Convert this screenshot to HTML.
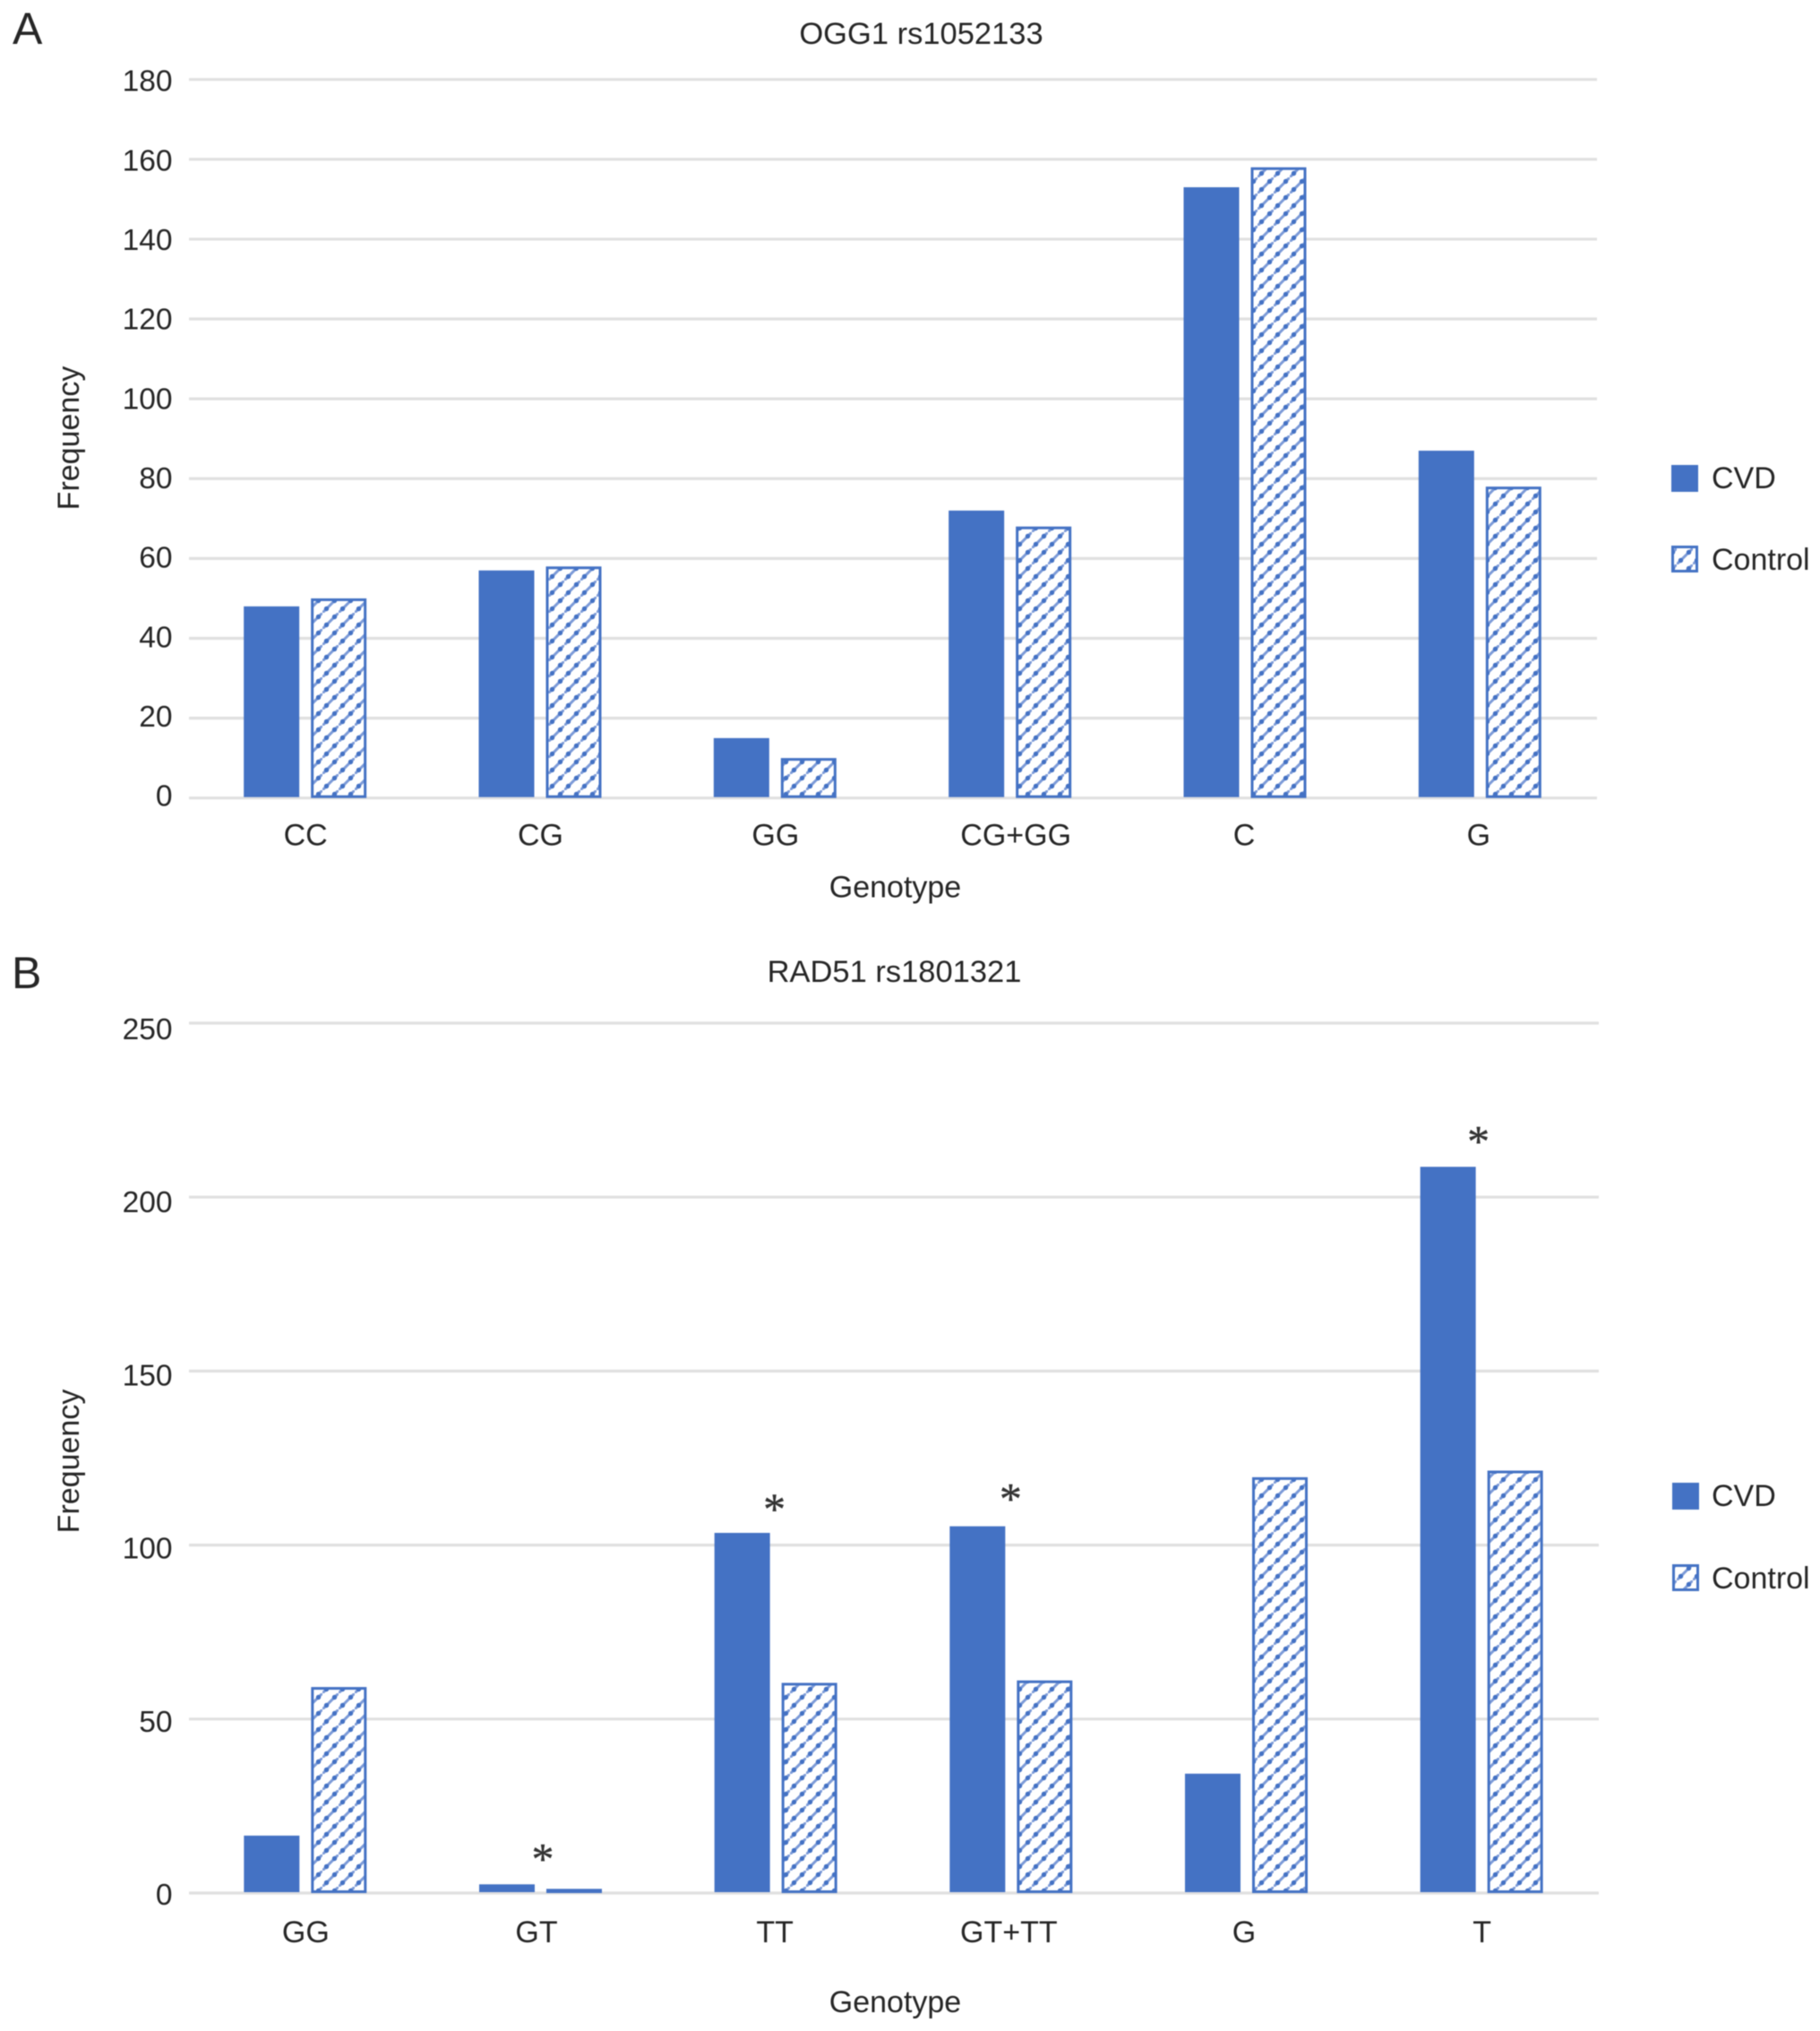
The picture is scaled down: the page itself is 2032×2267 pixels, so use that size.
<!DOCTYPE html>
<html lang="en">
<head>
<meta charset="utf-8">
<title>OGG1 rs1052133 and RAD51 rs1801321 genotype frequency</title>
<style>
html,body{margin:0;padding:0;background:#fff;}
svg{display:block;filter:blur(0.6px);}
text{font-family:"Liberation Sans",sans-serif;fill:#262626;}
</style>
</head>
<body>
<svg id="figure" xmlns="http://www.w3.org/2000/svg" width="2032" height="2267" viewBox="0 0 2032 2267">
  <defs>
    <pattern id="hatch" patternUnits="userSpaceOnUse" width="18" height="18">
      <rect width="18" height="18" fill="#ffffff"/>
      <path d="M-2,20 L20,-2" stroke="#7d9bd8" stroke-width="3" fill="none"/>
      <circle cx="4.5" cy="13.5" r="2.7" fill="#4472c4"/>
      <circle cx="13.5" cy="4.5" r="2.7" fill="#4472c4"/>
    </pattern>
  </defs>
  <rect width="2032" height="2267" fill="#ffffff"/>
  <g id="panelA"></g>
  <g id="panelB"></g>
</svg>
<script>
// Panel A: OGG1 rs1052133
const categoriesA = ['CC', 'CG', 'GG', 'CG+GG', 'C', 'G'];
const cvdA = [48, 57, 15, 72, 153, 87];
const controlA = [50, 58, 10, 68, 158, 78];
const ticksA = [0, 20, 40, 60, 80, 100, 120, 140, 160, 180];
const significantA = [0, 0, 0, 0, 0, 0];

// Panel B: RAD51 rs1801321
const categoriesB = ['GG', 'GT', 'TT', 'GT+TT', 'G', 'T'];
const cvdB = [16.5, 2.5, 103.5, 105.4, 34.3, 208.7];
const controlB = [59.2, 1.2, 60.4, 61.1, 119.5, 121.4];
const ticksB = [0, 50, 100, 150, 200, 250];
const significantB = [0, 1, 1, 1, 0, 1];

const SVG_NS = 'http://www.w3.org/2000/svg';
const BLUE = '#4472c4';

function make(parent, tag, attrs, content) {
  const el = document.createElementNS(SVG_NS, tag);
  for (const key in attrs) el.setAttribute(key, attrs[key]);
  if (content !== undefined) el.textContent = content;
  parent.appendChild(el);
  return el;
}

function drawChart(root, cfg) {
  const maxTick = cfg.ticks[cfg.ticks.length - 1];
  const yScale = v => cfg.y0 - (v / maxTick) * (cfg.y0 - cfg.yTop);
  const band = (cfg.xRight - cfg.xLeft) / cfg.categories.length;
  const xCenter = i => cfg.xLeft + band * (i + 0.5);
  const barW = 62;
  const barGap = 13;

  const letter = make(root, 'text', {x: cfg.letterX, y: cfg.letterY, 'font-size': 50, fill: '#111'}, cfg.letter);
  
  

  const title = make(root, 'text', {x: cfg.titleX, y: cfg.titleY, 'font-size': 34.5, 'text-anchor': 'middle'}, cfg.title);
  
  

  cfg.ticks.forEach(t => {
    const grid = make(root, 'line', {x1: cfg.gridLeft, x2: cfg.gridRight, y1: yScale(t), y2: yScale(t), stroke: '#e0e0e0', 'stroke-width': 3.2});
    
    

    const drift = cfg.labelDrop0 + (cfg.labelDropTop - cfg.labelDrop0) * t / maxTick;
    const label = make(root, 'text', {x: 192.5, y: yScale(t) + drift, 'font-size': 33.5, 'text-anchor': 'end'}, String(t));
    
    
  });

  cfg.categories.forEach((cat, i) => {
    const cx = xCenter(i);
    const groupLeft = cx - (2 * barW + barGap) / 2;
    const cvdTop = yScale(cfg.cvd[i]);
    const ctlTop = yScale(cfg.control[i]);

    const cvdBar = make(root, 'rect', {x: groupLeft - 0.5, y: cvdTop, width: barW, height: cfg.y0 - cvdTop - 1, fill: BLUE});
    
    

    const ctlBar = make(root, 'rect', {x: groupLeft + barW + barGap + 1, y: ctlTop + 1.5, width: barW - 3, height: Math.max(cfg.y0 - ctlTop - 3, 0.5), fill: 'url(#hatch)', stroke: BLUE, 'stroke-width': 3});
    
    

    const tick = make(root, 'text', {x: cx + cfg.labelNudge[i], y: cfg.catY, 'font-size': 34, 'text-anchor': 'middle'}, cat);
    
    

    if (cfg.significant[i]) {
      const top = Math.min(cvdTop, ctlTop);
      const star = make(root, 'text', {x: cx - 1 + cfg.starNudgeX[i], y: top - 33 + 21 + cfg.starNudgeY[i], 'font-size': 50, 'text-anchor': 'middle', stroke: '#333', 'stroke-width': 0.4, style: 'font-family:"Liberation Serif",serif;fill:#333'}, '*');
      
      
    }
  });

  const xTitle = make(root, 'text', {x: 999.5, y: cfg.xTitleY, 'font-size': 34, 'text-anchor': 'middle'}, 'Genotype');
  
  

  const yTitle = make(root, 'text', {x: 0, y: 0, 'font-size': 34, 'text-anchor': 'middle', transform: 'translate(88 ' + cfg.yTitleCenter + ') rotate(-90)'}, 'Frequency');
  
  

  const legendCvd = make(root, 'rect', {x: cfg.legendX, y: cfg.legendCvdY, width: 30, height: 30, fill: BLUE});
  
  

  const legendCvdText = make(root, 'text', {x: 1911, y: cfg.legendCvdY + 26, 'font-size': 34}, 'CVD');
  
  

  const legendCtl = make(root, 'rect', {x: cfg.legendX + 1.5, y: cfg.legendCtlY + 1.5, width: 27, height: 27, fill: 'url(#hatch)', stroke: BLUE, 'stroke-width': 3});
  
  

  const legendCtlText = make(root, 'text', {x: 1911, y: cfg.legendCtlY + 27, 'font-size': 34}, 'Control');
  
  
}

drawChart(document.getElementById('panelA'), {
  letter: 'A', letterX: 14, letterY: 49,
  title: 'OGG1 rs1052133', titleX: 1028.5, titleY: 49,
  categories: categoriesA, cvd: cvdA, control: controlA, ticks: ticksA, significant: significantA,
  y0: 890.7, yTop: 88.7, xLeft: 210, xRight: 1784, gridLeft: 211, gridRight: 1783,
  labelDrop0: 9, labelDropTop: 13,
  labelNudge: [0, 0, 0, 6, -1.5, -2],
  starNudgeX: [0, 0, 0, 0, 0, 0],
  starNudgeY: [0, 0, 0, 0, 0, 0],
  catY: 943.5, xTitleY: 1001.5, yTitleCenter: 489,
  legendX: 1866, legendCvdY: 519, legendCtlY: 609
});

drawChart(document.getElementById('panelB'), {
  letter: 'B', letterX: 13, letterY: 1103,
  title: 'RAD51 rs1801321', titleX: 998.5, titleY: 1096,
  categories: categoriesB, cvd: cvdB, control: controlB, ticks: ticksB, significant: significantB,
  y0: 2113, yTop: 1142, xLeft: 210, xRight: 1786, gridLeft: 211, gridRight: 1785,
  labelDrop0: 13, labelDropTop: 18,
  labelNudge: [0, -5, -1.5, -3, -3, 0],
  starNudgeX: [0, 3, -1, 0, 0, -3],
  starNudgeY: [0, 0, 2, -2, 0, 0],
  catY: 2168, xTitleY: 2246, yTitleCenter: 1631,
  legendX: 1867, legendCvdY: 1655, legendCtlY: 1746
});
</script>
</body>
</html>
